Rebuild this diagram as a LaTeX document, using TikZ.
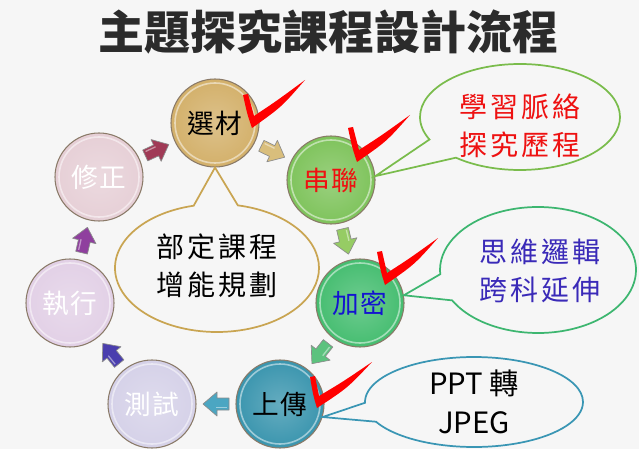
\documentclass[tikz,border=0pt]{standalone}
\usepackage{fontspec}
\setmainfont{Noto Sans CJK TC}
\newfontfamily\titlefont{Noto Sans CJK TC}
\newfontfamily\widefont{Noto Sans CJK TC}[LetterSpace=10]
\newfontfamily\ballfont{Noto Sans CJK TC}[LetterSpace=5]
\usetikzlibrary{shapes.callouts,calc}
\definecolor{bgc}{HTML}{F6F6F6}
\definecolor{rimc}{HTML}{8A7A68}
\definecolor{titlec}{HTML}{2B2B2B}
\definecolor{xuanc}{HTML}{D3B06A}
\definecolor{chuanc}{HTML}{7EC35B}
\definecolor{jiamic}{HTML}{45BD70}
\definecolor{shangc}{HTML}{3A95AE}
\definecolor{ceshic}{HTML}{D5D1E8}
\definecolor{zhixingc}{HTML}{E2D0E6}
\definecolor{xiuc}{HTML}{E6CFD6}
\definecolor{redtxt}{HTML}{EE1111}
\definecolor{bluetxt}{HTML}{1414D0}
\definecolor{indtxt}{HTML}{3A2AB8}
\definecolor{tickred}{HTML}{FF0000}
\definecolor{lineTan}{HTML}{C9A552}
\definecolor{lineGreen}{HTML}{7ABC4C}
\definecolor{lineSea}{HTML}{3DB670}
\definecolor{lineTeal}{HTML}{3A96B4}
\definecolor{arrTan}{HTML}{D9BE7C}
\definecolor{arrLG}{HTML}{96CC64}
\definecolor{arrG}{HTML}{5CC27E}
\definecolor{arrTeal}{HTML}{4BA6C2}
\definecolor{arrInd}{HTML}{4A3EAE}
\definecolor{arrPur}{HTML}{8F3F9E}
\definecolor{arrMar}{HTML}{A03A56}
\newcommand{\redtick}[3]{\fill[tickred] (#1) .. controls ($(#1)!0.6!(#2)+(-1,0)$) .. (#2) .. controls ($(#2)!0.5!(#3)+(3,3)$) .. (#3) .. controls ($(#2)!0.5!(#3)+(-2,-3)$) .. ($(#2)+(2,-12)$) -- ($(#1)+(5,-1)$) -- cycle;}
\newcommand{\linkarrow}[3]{%
  \pgfmathanglebetweenpoints{\pgfpointanchor{#1}{center}}{\pgfpointanchor{#2}{center}}%
  \edef\myarrang{\pgfmathresult}%
  \begin{scope}[shift={($(#1)!0.5!(#2)$)}, rotate=\myarrang]
    \draw[blockarr, fill=#3] (-13,-6) -- (-1,-6) -- (-1,-12) -- (13,0) -- (-1,12) -- (-1,6) -- (-13,6) -- cycle;
    \draw[white, opacity=0.45, line width=1pt] (-11,-3.5) -- (0,-3.5);
  \end{scope}}
\begin{document}
\begin{tikzpicture}[x=0.75pt,y=-0.75pt,
  ball/.style={circle, minimum size=66pt, inner sep=0pt, draw=rimc, line width=0.8pt,
    inner color=#1!78!white, outer color=#1,
    font=\ballfont\fontsize{20}{24}\selectfont,
    path picture={\draw[white, opacity=0.5, line width=1.2pt] (path picture bounding box.center) circle[radius=40];}},
  bubble/.style={ellipse callout, draw=#1, line width=1.3pt, inner sep=0pt, callout pointer arc=25},
  txt/.style={align=center, font=\widefont\fontsize{21}{28.5}\selectfont},
  blockarr/.style={draw=black!45, line width=0.5pt, line join=round}
]
\fill[bgc] (0,0) rectangle (639,449);
\useasboundingbox (0,0) rectangle (639,449);
\node[text=titlec, font=\titlefont\bfseries\fontsize{34.5}{38}\selectfont] (title) at (328,32) {主題探究課程設計流程};
% circles
\node[ball=xuanc] (xuan) at (215,123) {選材};
\node[ball=chuanc, text=redtxt] (chuan) at (331,180) {串聯};
\node[ball=jiamic, text=bluetxt] (jiami) at (360,303) {加密};
\node[ball=shangc] (shang) at (280,404) {上傳};
\node[ball=ceshic, text=white] (ceshi) at (152,404) {測試};
\node[ball=zhixingc, text=white] (zhixing) at (70,303) {執行};
\node[ball=xiuc, text=white] (xiu) at (99,177) {修正};
% callouts
\node[bubble=lineTan, minimum width=153pt, minimum height=96pt, callout absolute pointer={(xuan.south)}] (cC) at (217,268) {};
\node[txt] (tC) at (217,266) {部定課程\\增能規劃};
\node[bubble=lineGreen, minimum width=150pt, minimum height=79.5pt, callout absolute pointer={(chuan.5)}] (cG) at (520,117) {};
\node[txt, text=redtxt] (tG) at (520,126) {學習脈絡\\探究歷程};
\node[bubble=lineSea, minimum width=147pt, minimum height=94.5pt, callout absolute pointer={(jiami.10)}] (cB) at (538,270) {};
\node[txt, text=indtxt] (tB) at (540,271) {思維邏輯\\跨科延伸};
\node[bubble=lineTeal, minimum width=163.5pt, minimum height=67.5pt, callout absolute pointer={(shang.-17)}] (cT) at (474,402) {};
\node[align=center, font=\fontsize{22}{29}\selectfont] (tT) at (474,402) {PPT 轉\\JPEG};
% arrows
\linkarrow{xuan}{chuan}{arrTan}
\linkarrow{chuan}{jiami}{arrLG}
\linkarrow{jiami}{shang}{arrG}
\linkarrow{shang}{ceshi}{arrTeal}
\linkarrow{ceshi}{zhixing}{arrInd}
\linkarrow{zhixing}{xiu}{arrPur}
\linkarrow{xiu}{xuan}{arrMar}
% ticks
\redtick{243,95}{252,128}{305,80}
\redtick{348,128}{357,162}{410,115}
\redtick{377,252}{385,285}{438,238}
\redtick{310,377}{317,408}{372,362}
\end{tikzpicture}
\end{document}
